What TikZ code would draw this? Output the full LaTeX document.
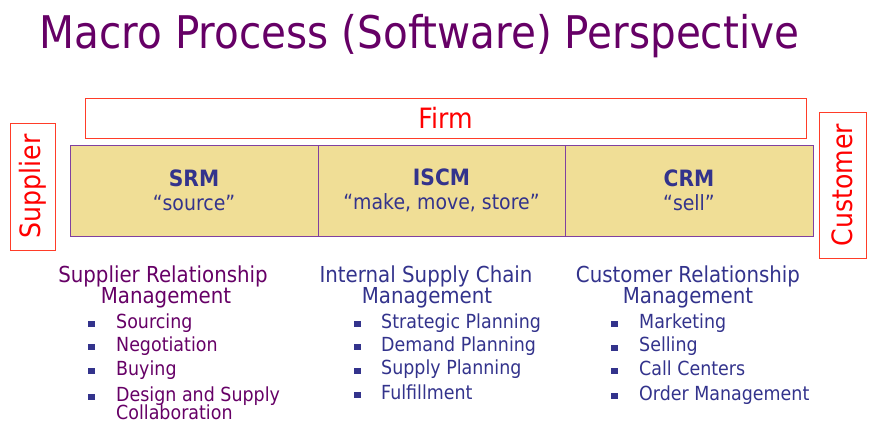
\documentclass[tikz,border=0pt]{standalone}
\usepackage{fontspec}
\setmainfont[FakeStretch=0.9]{DejaVu Sans}
\definecolor{titlepurple}{RGB}{102,0,102}
\definecolor{listblue}{RGB}{51,51,140}
\definecolor{boxred}{RGB}{255,60,40}
\definecolor{barfill}{RGB}{240,222,150}
\definecolor{barline}{RGB}{128,64,160}
\tikzset{
  sz/.style={font=\fontsize{#1}{#1}\selectfont},
  redbox/.style={draw=boxred, line width=1pt, text=red, inner sep=0pt, sz=28},
  barbox/.style={draw=barline, fill=barfill, line width=0.8pt, text=listblue,
    align=center, inner sep=0pt, minimum height=91pt, font=\fontsize{21}{24}\selectfont},
  head/.style={anchor=base, inner sep=0pt, sz=22},
  item/.style={anchor=base west, inner sep=0pt, sz=19.4},
  bullet/.style={fill=listblue, inner sep=0pt, minimum width=7pt, minimum height=6pt}
}
\begin{document}
\begin{tikzpicture}[x=1pt,y=-1pt]  % ------ Macro process -----------
\useasboundingbox (0,0) rectangle (870,432);
    \node[anchor=base, inner sep=0pt, text=titlepurple, sz=45] (title) at (419.5,48)
        {Macro Process (Software) Perspective};
    % boxes
    \node[redbox, minimum width=721pt, minimum height=40pt] (firm) at (445.5,118) {Firm};
    \node[redbox, rotate=90, minimum width=127pt, minimum height=45pt] (supplier) at (33,186.5) {Supplier};
    \node[redbox, rotate=90, minimum width=146pt, minimum height=47pt] (customer) at (842.5,185) {Customer};
    \node[barbox, minimum width=248pt] (srm) at (194,190.5)
        {{\bfseries\fontsize{22.5}{24}\selectfont SRM}\\“source”};
    \node[barbox, minimum width=247pt] (iscm) at (441.5,190.5)
        {{\bfseries\fontsize{22.5}{24}\selectfont ISCM}\\“make, move, store”};
    \node[barbox, minimum width=248pt] (crm) at (689,190.5)
        {{\bfseries\fontsize{22.5}{24}\selectfont CRM}\\“sell”};
    % supplier relationship management
    \node[head, text=titlepurple] (h1a) at (163,282) {Supplier Relationship};
    \node[head, text=titlepurple] (h1b) at (166,303) {Management};
    \node[bullet] (b11) at (91,324) {}; \node[item, text=titlepurple] (i11) at (116,328) {Sourcing};
    \node[bullet] (b12) at (91,347) {}; \node[item, text=titlepurple] (i12) at (116,351) {Negotiation};
    \node[bullet] (b13) at (91,371) {}; \node[item, text=titlepurple] (i13) at (116,375) {Buying};
    \node[bullet] (b14) at (91,397) {}; \node[item, text=titlepurple] (i14) at (116,401) {Design and Supply};
    \node[item, text=titlepurple] (i14b) at (116,419) {Collaboration};
    % internal supply chain management
    \node[head, text=listblue] (h2a) at (426,282) {Internal Supply Chain};
    \node[head, text=listblue] (h2b) at (427,303) {Management};
    \node[bullet] (b21) at (357,324) {}; \node[item, text=listblue] (i21) at (381,328) {Strategic Planning};
    \node[bullet] (b22) at (357,347) {}; \node[item, text=listblue] (i22) at (381,351) {Demand Planning};
    \node[bullet] (b23) at (357,370.5) {}; \node[item, text=listblue] (i23) at (381,374.5) {Supply Planning};
    \node[bullet] (b24) at (357,395) {}; \node[item, text=listblue] (i24) at (381,399) {Fulfillment};
    % customer relationship management
    \node[head, text=listblue] (h3a) at (688,282) {Customer Relationship};
    \node[head, text=listblue] (h3b) at (688,303) {Management};
    \node[bullet] (b31) at (614,324) {}; \node[item, text=listblue] (i31) at (639,328) {Marketing};
    \node[bullet] (b32) at (614,347.5) {}; \node[item, text=listblue] (i32) at (639,351.5) {Selling};
    \node[bullet] (b33) at (614,371) {}; \node[item, text=listblue] (i33) at (639,375) {Call Centers};
    \node[bullet] (b34) at (614,396) {}; \node[item, text=listblue] (i34) at (639,400) {Order Management};
\end{tikzpicture}
\end{document}
